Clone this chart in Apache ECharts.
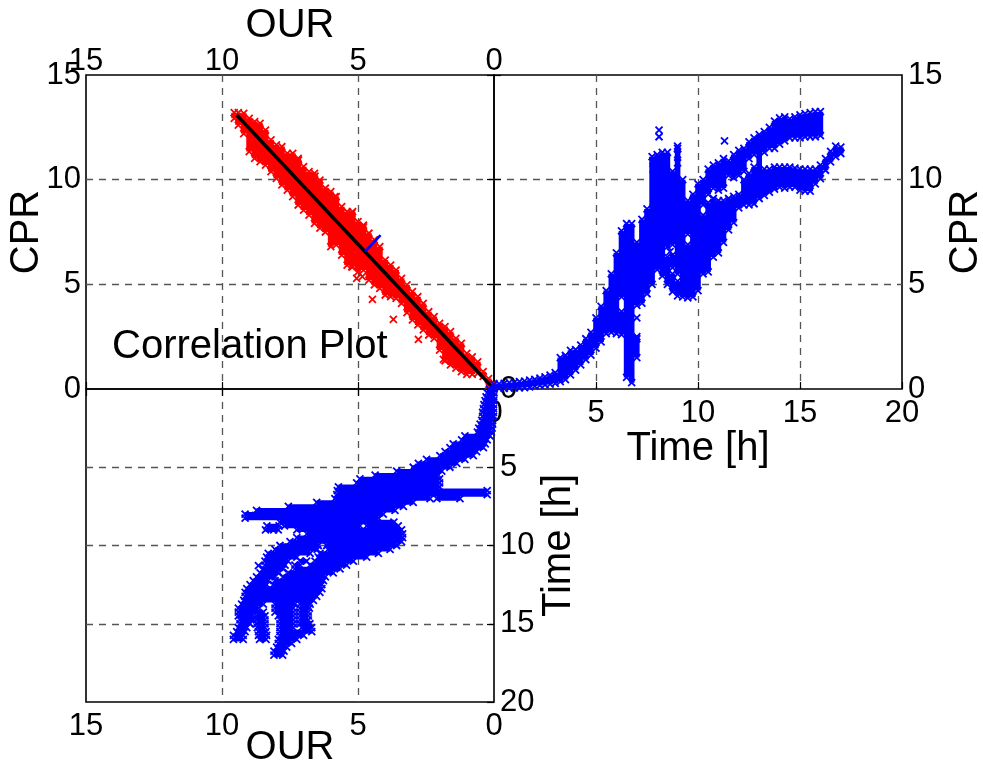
<!DOCTYPE html>
<html><head><meta charset="utf-8">
<script src="https://cdn.jsdelivr.net/npm/echarts@6/dist/echarts.min.js"></script>
<style>html,body{margin:0;background:#fff}#c{width:983px;height:764px}</style></head>
<body><div id="c"></div>
<script>
// Extents of the point clouds: [position, lo, hi, lo, hi, ...]
const timeCprRows = [
[0,.02,.22],[.25,.03,.25],[.5,.03,.27],[.75,.04,.3],[1,.05,.32],[1.25,.06,.35],[1.5,.07,.38],[1.75,.1,.42],[2,.14,.46],[2.25,.17,.52],[2.5,.2,.58],[2.75,.23,.66],
[3,.27,.78],[3.25,.35,1.5],[3.5,.45,1.6],[3.75,.67,1.85],[4,.9,1.88],[4.25,1.15,2.1],[4.5,1.4,2.4],[4.75,1.62,2.7],[5,1.95,3.4],[5.25,2.25,3.95],[5.5,2.65,4.7],[5.75,2.7,5.5],
[6,2.65,6.5],[6.25,2.6,3.7,4.4,7.55],[6.5,.55,7.9],[6.75,.3,7.9],[7,1.5,2.5,4.0,7.0],[7.25,4.1,8.1],[7.5,4.55,8.6],[7.75,5.0,11.1],[8,5.7,11.2],[8.25,5.4,11.3],
[8.5,5.0,6.3,6.8,11.3],[8.75,4.65,5.5,5.8,6.4,6.9,10.4],[9,4.45,5.15,5.5,11.6],[9.25,4.4,10.0],[9.5,4.35,6.9,7.4,9.0],[9.75,4.4,9.3],[10,4.7,9.8],[10.25,5.5,8.3,8.8,10],
[10.5,5.6,8.9,9.3,10.5],[10.75,6.3,9.1,9.6,10.7],[11,6.5,9.0,9.5,10.8],[11.25,7.0,9.0,9.6,11.0],[11.5,7.6,9.1,10.2,10.9],[11.75,7.95,9.2,10.1,11.2],[12,8.65,9.3,10.2,11.4],
[12.25,8.8,10,10.4,11.5],[12.5,8.8,10.3,11.0,11.8],[12.75,8.85,10.6,11.2,12.0],[13,9.1,12.15],[13.25,9.25,10.5,11.3,12.3],[13.5,9.4,10.5,11.5,12.5],[13.75,9.55,10.6,11.5,12.8],
[14,9.65,10.6,11.7,12.95],[14.25,9.6,10.6,11.85,13],[14.5,9.65,10.6,12.0,12.9],[14.75,9.65,10.55,12.0,13.0],[15,9.5,10.5,12.0,13.1],[15.25,9.45,10.5,12.05,13.15],
[15.5,9.45,10.5,12.05,13.2],[15.75,9.8,10.5,12.05,13.25],[16,10.05,10.7,12.1,13.25],[16.25,10.45,11.0],[16.5,10.85,11.35],[16.75,11.1,11.6],[17,11.25,11.55]
];
const timeCprOutliers = [[8.09,12.37],[8.09,12.05],[9,11.5],[9,11.2],[9,10.8],[11.3,11.85],[7,3.4],[8.63,6.56],[6.8,2.4],[7,2.4],[7.8,10.9],[7.8,10.5]];

const timeOurRows = [
[0,0,.17],[.25,0,.25],[.5,.01,.29],[.75,.01,.33],[1,.02,.37],[1.25,.02,.39],[1.5,.02,.42],[1.75,.02,.42],[2,.05,.45],[2.25,.05,.51],[2.5,.07,.56],[2.75,.1,.61],
[3,.15,1.07],[3.25,.25,1.19],[3.5,.32,1.5],[3.75,.39,1.62],[4,.64,1.8],[4.25,.76,1.99],[4.5,1.07,2.48],[4.75,1.37,2.78],[5,1.62,2.97],[5.25,1.92,3.58],[5.5,2.05,4.37],[5.75,2.0,4.93],
[6,2.0,5.05],[6.25,2.0,5.72],[6.5,.25,5.76],[6.75,.25,5.78],[7,1.25,2.1,2.35,5.85],[7.25,2.97,6.52],[7.5,3.33,7.56],[7.75,3.64,8.73],[8,4.07,9.15],[8.25,4.25,9.15],[8.5,3.68,7.87],
[8.75,3.52,4.68,4.93,7.7,7.9,8.35],[9,3.4,7.25,7.93,8.4],[9.25,3.36,6.88],[9.5,3.36,7.25],[9.75,3.4,7.5],[10,3.58,6.15,6.46,7.87],[10.25,3.82,6.1,6.5,8.05],[10.5,4.25,6.4,6.76,8.3],
[10.75,4.68,6.46,7.25,8.36],[11,5.17,6.58,6.89,7.13,7.57,8.42],[11.25,5.42,6.76,7.13,7.32,7.68,8.42],[11.5,5.66,7.32,7.75,8.48],[11.75,5.91,7.56,7.93,8.6],[12,6.2,7.75,8.05,8.73],
[12.25,6.27,8.05,8.3,8.85],[12.5,6.33,8.11,8.36,8.97],[12.75,6.33,9.09],[13,6.4,9.15],[13.25,6.52,9.15],[13.5,6.64,9.2],[13.75,6.76,7.13,7.32,8.05,8.48,9.28],[14,6.79,7.13,7.38,8.05,8.66,9.4],
[14.25,6.83,7.13,7.38,8.05,8.48,9.4],[14.5,6.83,7.13,7.38,7.93,8.42,8.73,8.85,9.4],[14.75,6.83,7.13,7.38,7.87,8.42,8.73,8.85,9.34],[15,6.77,7.13,7.38,7.87,8.42,8.73,8.97,9.34],
[15.25,6.7,7.07,7.38,7.87,8.42,8.7,9.09,9.4],[15.5,6.7,7.87,8.38,8.66,9.15,9.46],[15.75,7,7.87,8.36,8.66,9.22,9.58],[16,7.25,7.93,8.38,8.62,9.22,9.58],[16.25,7.44,7.93],[16.5,7.62,7.99],[16.75,7.72,8.09],[17,7.77,8.09]
];
const timeOurOutliers = [[11.28,8.66],[8.08,8.97],[8.08,8.7],[9,8.1]];

const ourCprRows = [
[0,.03,.27],[.2,.19,.5],[.4,.6,.83],[.6,.75,1.3],[.8,.7,1.54],[1,.7,1.7],[1.2,.83,2.18],[1.4,1,2.42],[1.6,1.15,2.74],[1.8,1.35,2.98],[2,1.86,3.14],[2.2,2.42,3.46],[2.4,2.58,3.69],[2.6,2.82,4.09],
[2.8,3.06,4.41],[3,3.3,4.65],[3.2,3.65,4.97],[3.4,4.09,5.29],[3.6,4.33,5.68],[3.8,4.41,5.92],[4,4.49,6.16],[4.2,4.81,6.8],[4.4,4.97,7.12],[4.6,5.2,7.44],[4.8,5.68,7.83],[5,5.6,8],[5.2,5.84,8.47],
[5.4,5.92,8.47],[5.6,6.4,8.71],[5.8,6.88,9.19],[6,6.8,9.43],[6.2,7.5,9.59],[6.4,7.68,9.98],[6.6,7.91,10.3],[6.8,8.31,10.38],[7,8.55,10.62],[7.2,8.79,11.02],[7.4,9.19,11.26],[7.6,9.5,11.26],
[7.8,9.75,11.58],[8,10.06,11.66],[8.2,10.38,11.9],[8.4,10.7,12.37],[8.6,10.86,12.69],[8.8,11.02,12.77],[9,11.34,12.93],[9.2,12.2,13.17],[9.4,12.61,13.2],[9.55,12.93,13.2]
];
const ourCprOutliers = [[7.19,10.94],[6.58,10.17],[5.85,9.19],[5.23,8.39],[4.8,7.75],[5.23,5.84],[5.05,5.29],[4.84,5.37],[4.47,4.28],[3.7,3.33],[2.78,2.37],[1.86,1.42]];

const fitLine = [[9.46,13.09],[0,0]];
const slopeMark = [[4.74,6.56],[4.17,7.35]];
const cprTitle = 'CPR', ourTitle = 'OUR', timeTitle = 'Time [h]', plotTitle = 'Correlation Plot';

const FONT = '"Liberation Sans", Arial, sans-serif';
const X = 'path://M0 0L10 10M10 0L0 10';
const flip = p => [p[1], p[0]];
function spans(rows){const out=[];for(const r of rows){for(let i=1;i+1<r.length;i+=2){out.push([r[0],r[i]],[r[0],r[i+1]],[r[0],null]);}}return out;}
function ends(rows){const out=[];for(const r of rows){for(let i=1;i<r.length;i++)out.push([r[0],r[i]]);}return out;}
function breakFlip(d){return d.map(p=>p[1]===null?[null,null]:[p[1],p[0]]);}

function cloud(name,data,points,color,width,gi,z){
  return [
   {name,type:'line',xAxisIndex:gi,yAxisIndex:gi,data,showSymbol:false,symbol:'none',connectNulls:false,clip:false,z,
    lineStyle:{color,width,cap:'butt'},animation:false,silent:true},
   {name:name+' points',type:'scatter',xAxisIndex:gi,yAxisIndex:gi,data:points,symbol:X,symbolSize:7,clip:false,z:z+0.1,
    itemStyle:{color:'rgba(0,0,0,0)',borderColor:color,borderWidth:1.8,opacity:1},animation:false,silent:true}
  ];
}
const grey='#555', split={show:true,showMinLine:false,showMaxLine:false,lineStyle:{color:grey,type:[7,6],width:1.3}};
const lab={fontFamily:FONT,fontSize:31,color:'#000'};
const nm={fontFamily:FONT,fontSize:40,color:'#000'};
const tick={show:true,inside:true,length:7,lineStyle:{color:'#000',width:1.2}};
const line={show:false};
const gridBase={show:true,borderColor:'#000',borderWidth:1.6,backgroundColor:'transparent',outerBoundsMode:'none'};
const named={nameLocation:'middle',nameMoveOverlap:false,nameTextStyle:nm,axisLine:line,axisTick:tick,splitLine:split};

const option={
 backgroundColor:'#fff',animation:false,
 title:{text:plotTitle,left:107,top:322,textStyle:{fontFamily:FONT,fontSize:40,fontWeight:'normal',color:'#000'}},
 grid:[
  {...gridBase,left:86,top:75,width:408,height:314},
  {...gridBase,left:494,top:75,width:408,height:314},
  {...gridBase,left:86,top:389,width:408,height:313}
 ],
 xAxis:[
  {...named,gridIndex:0,type:'value',min:0,max:15,interval:5,inverse:true,position:'top',name:ourTitle,nameGap:29,axisLabel:{...lab,margin:-2}},
  {...named,gridIndex:1,type:'value',min:0,max:20,interval:5,position:'bottom',name:timeTitle,nameGap:40,axisLabel:{...lab,margin:9}},
  {...named,gridIndex:2,type:'value',min:0,max:15,inverse:true,interval:5,position:'bottom',name:ourTitle,nameGap:26,axisLabel:{...lab,margin:9}}
 ],
 yAxis:[
  {...named,gridIndex:0,type:'value',min:0,max:15,interval:5,position:'left',name:cprTitle,nameGap:39,nameRotate:90,axisLabel:{...lab,margin:5,padding:[2,0,0,0]}},
  {...named,gridIndex:1,type:'value',min:0,max:15,interval:5,position:'right',name:cprTitle,nameGap:44,nameRotate:90,axisLabel:{...lab,margin:6,padding:[2,0,0,0]}},
  {...named,gridIndex:2,type:'value',min:0,max:20,interval:5,inverse:true,position:'right',name:timeTitle,nameGap:45,nameRotate:90,axisLabel:{...lab,margin:6,padding:[2,0,0,0]}}
 ],
 series:[
  ...cloud('CPR vs OUR',spans(ourCprRows),ends(ourCprRows).concat(ourCprOutliers),'#ff0000',5.9,0,5),
  {name:'Fit',type:'line',xAxisIndex:0,yAxisIndex:0,data:fitLine,symbol:'none',clip:false,z:7,lineStyle:{color:'#000',width:3.4}},
  {name:'Slope',type:'line',xAxisIndex:0,yAxisIndex:0,data:slopeMark,symbol:'none',clip:false,z:7,lineStyle:{color:'#0000ff',width:2.6}},
  ...cloud('CPR vs time',spans(timeCprRows),ends(timeCprRows).concat(timeCprOutliers),'#0000ff',5.6,1,8),
  ...cloud('OUR vs time',breakFlip(spans(timeOurRows)),ends(timeOurRows).map(flip).concat(timeOurOutliers.map(flip)),'#0000ff',4.4,2,8)
 ]
};
const chart=echarts.init(document.getElementById('c'),null,{renderer:'canvas'});
chart.setOption(option);
</script></body></html>
